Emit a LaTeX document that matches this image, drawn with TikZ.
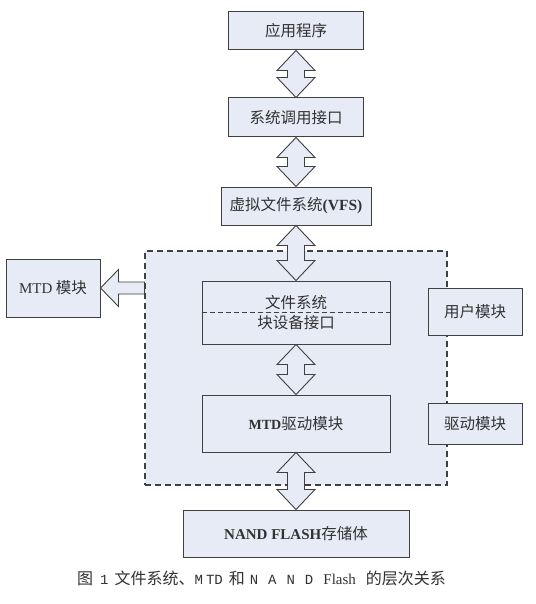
\documentclass[tikz,border=0pt]{standalone}
\usepackage{fontspec}
\setmainfont{Liberation Serif}
\newfontfamily\cjk{Noto Sans CJK SC}
\newfontfamily\capmono{Liberation Mono}
\usetikzlibrary{calc}
\definecolor{boxfill}{RGB}{231,235,246}
\definecolor{edge}{RGB}{64,64,64}
\definecolor{ink}{RGB}{50,50,50}
\newcommand\zh[1]{{\cjk\fontsize{15.5}{18}\selectfont #1}}
\newcommand\udarrow[2]{\draw[arr] (#1.south) -- ++(19,20) -- ++(-10.5,0) -- ($(#2.north)+(8.5,-20)$) -- ++(10.5,0) -- (#2.north) -- ++(-19,-20) -- ++(10.5,0) -- ($(#1.south)+(-8.5,20)$) -- ++(-10.5,0) -- cycle;}
\begin{document}
\begin{tikzpicture}[x=1pt,y=-1pt,
 box/.style={draw=edge,fill=boxfill,line width=1pt,inner sep=0pt,text=ink,align=center,font=\fontsize{14}{18}\selectfont},
 arr/.style={draw=edge,fill=boxfill,line width=0.9pt,line join=miter},
 zone/.style={draw=edge,fill=boxfill,dash pattern=on 6pt off 4pt,line width=1.1pt,inner sep=0pt}]
\useasboundingbox (0,0) rectangle (535,604);
\fill[white] (0,0) rectangle (535,604);
% dashed region
\node[zone,minimum width=302pt,minimum height=234pt] (zone) at (296,368) {};
% boxes
\node[box,minimum width=135pt,minimum height=38pt] (app) at (296,31) {\zh{应用程序}};
\node[box,minimum width=135pt,minimum height=39pt] (sys) at (296,117.5) {\zh{系统调用接口}};
\node[box,minimum width=150pt,minimum height=38pt] (vfs) at (296,206) {\zh{虚拟文件系统}{\bfseries\fontsize{15.5}{18}\selectfont(VFS)}};
\node[box,minimum width=188pt,minimum height=63pt,font=\fontsize{13}{20}\selectfont] (fs) at (296,312.5) {\zh{文件系统}\\\zh{块设备接口}};
\draw[edge,line width=0.9pt,dash pattern=on 5pt off 3pt] (fs.west) -- (fs.east);
\node[box,minimum width=188pt,minimum height=57pt] (mtdd) at (296,423.5) {{\bfseries MTD}\zh{驱动模块}};
\node[box,minimum width=226pt,minimum height=47pt] (nand) at (296,533.5) {{\bfseries\fontsize{15}{18}\selectfont NAND FLASH}\zh{存储体}};
\node[box,minimum width=94pt,minimum height=47pt] (user) at (475,311.5) {\zh{用户模块}};
\node[box,minimum width=94pt,minimum height=41pt] (drv) at (475,423.5) {\zh{驱动模块}};
\node[box,minimum width=94pt,minimum height=58pt] (mtd) at (53,288) {{\fontsize{15}{18}\selectfont MTD} \zh{模块}};
% double arrows
\udarrow{app}{sys}
\udarrow{sys}{vfs}
\udarrow{vfs}{fs}
\udarrow{fs}{mtdd}
\udarrow{mtdd}{nand}
% left arrow
\draw[arr] (mtd.east) -- ++(18,-18.5) -- ++(0,12.5) -- ($(zone.west|-mtd.east)+(0,-6)$) -- ++(0,12) -- ($(mtd.east)+(18,6)$) -- ++(0,12.5) -- cycle;
% caption
\node[text=ink,inner sep=0pt,anchor=west,font=\cjk\fontsize{16}{17}\selectfont] (cap) at (77,578) {图\hspace{7pt}{\capmono\fontsize{14}{16}\selectfont 1}\hspace{6pt}文件系统、{\capmono\fontsize{14}{16}\selectfont M\hspace{3pt}TD}\hspace{6pt}和\hspace{5pt}{\capmono\fontsize{14}{16}\selectfont N\hspace{10pt}A\hspace{10pt}N\hspace{10pt}D\hspace{10pt}}{\rmfamily\fontsize{15}{16}\selectfont Flash}\hspace{10pt}的层次关系};
\end{tikzpicture}
\end{document}
